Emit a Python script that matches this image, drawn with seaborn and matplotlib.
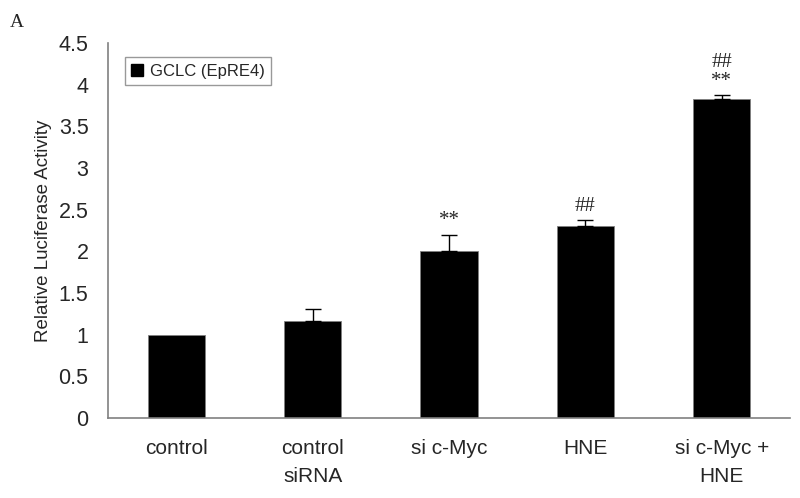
import matplotlib
matplotlib.use("Agg")
import matplotlib.pyplot as plt
import seaborn as sns
import pandas as pd
from matplotlib.patches import Patch

categories = ["control", "control\nsiRNA", "si c-Myc", "HNE", "si c-Myc +\nHNE"]
values = [1.0, 1.16, 2.01, 2.30, 3.83]
errors = [0.0, 0.15, 0.19, 0.07, 0.04]
marks = ["", "", "**", "##", "##\n**"]
yticks = [0, 0.5, 1, 1.5, 2, 2.5, 3, 3.5, 4, 4.5]
series_name = "GCLC (EpRE4)"

sns.set_theme(style="white")
plt.rcParams['font.family'] = ['Liberation Sans', 'DejaVu Sans']

df = pd.DataFrame({"cat": categories, "val": values})

fig = plt.figure(figsize=(8, 4.98), dpi=100)
ax = fig.add_axes([0.135, 0.1606, 0.8525, 0.7531])

sns.barplot(data=df, x="cat", y="val", color="black", width=0.42,
            saturation=1, ax=ax, errorbar=None)
for p in ax.patches:
    p.set_edgecolor("#808080")
    p.set_linewidth(0.6)

for x, v, e in zip(range(len(values)), values, errors):
    if e > 0:
        ax.errorbar([x], [v], yerr=[[0], [e]], fmt="none",
                    ecolor="black", elinewidth=1.0, capsize=6, capthick=1.0)

for x, v, e, m in zip(range(len(values)), values, errors, marks):
    if m:
        ax.text(x, v + e + 0.05, m, ha="center", va="bottom",
                fontsize=15, family="Liberation Serif", linespacing=1.05)

ax.set_ylim(0, 4.5)
ax.set_xlim(-0.5, len(categories) - 0.5)
ax.set_yticks(yticks)
ax.set_yticklabels([f"{t:g}" for t in yticks], fontsize=15.5)
ax.set_xticks([i - 0.5 for i in range(len(categories) + 1)], minor=False)
ax.set_xticklabels([""] * (len(categories) + 1))
ax.set_xticks(list(range(len(categories))), minor=True)
ax.set_xticklabels(categories, minor=True, fontsize=15, linespacing=1.6)
ax.tick_params(axis="x", which="minor", length=0, pad=15)
ax.tick_params(axis="x", which="major", length=7, color="#808080", direction="out", width=1)
ax.tick_params(axis="y", length=6, color="#808080", direction="out", width=1, pad=8)
ax.set_xlabel("")
ax.set_ylabel("Relative Luciferase Activity", fontsize=13.5, labelpad=5)

for s in ["top", "right"]:
    ax.spines[s].set_visible(False)
for s in ["left", "bottom"]:
    ax.spines[s].set_color("#808080")
    ax.spines[s].set_linewidth(1.2)

leg = ax.legend(handles=[Patch(facecolor="black", edgecolor="black", label=series_name)],
                loc="upper left", bbox_to_anchor=(0.012, 0.985), fontsize=12,
                frameon=True, fancybox=False, handlelength=0.7, handleheight=0.7,
                handletextpad=0.4, borderpad=0.4)
leg.get_frame().set_edgecolor("#808080")
leg.get_frame().set_linewidth(1.0)

fig.text(0.012, 0.945, "A", family="Liberation Serif", fontsize=14)

fig.savefig("out.png", dpi=100)
